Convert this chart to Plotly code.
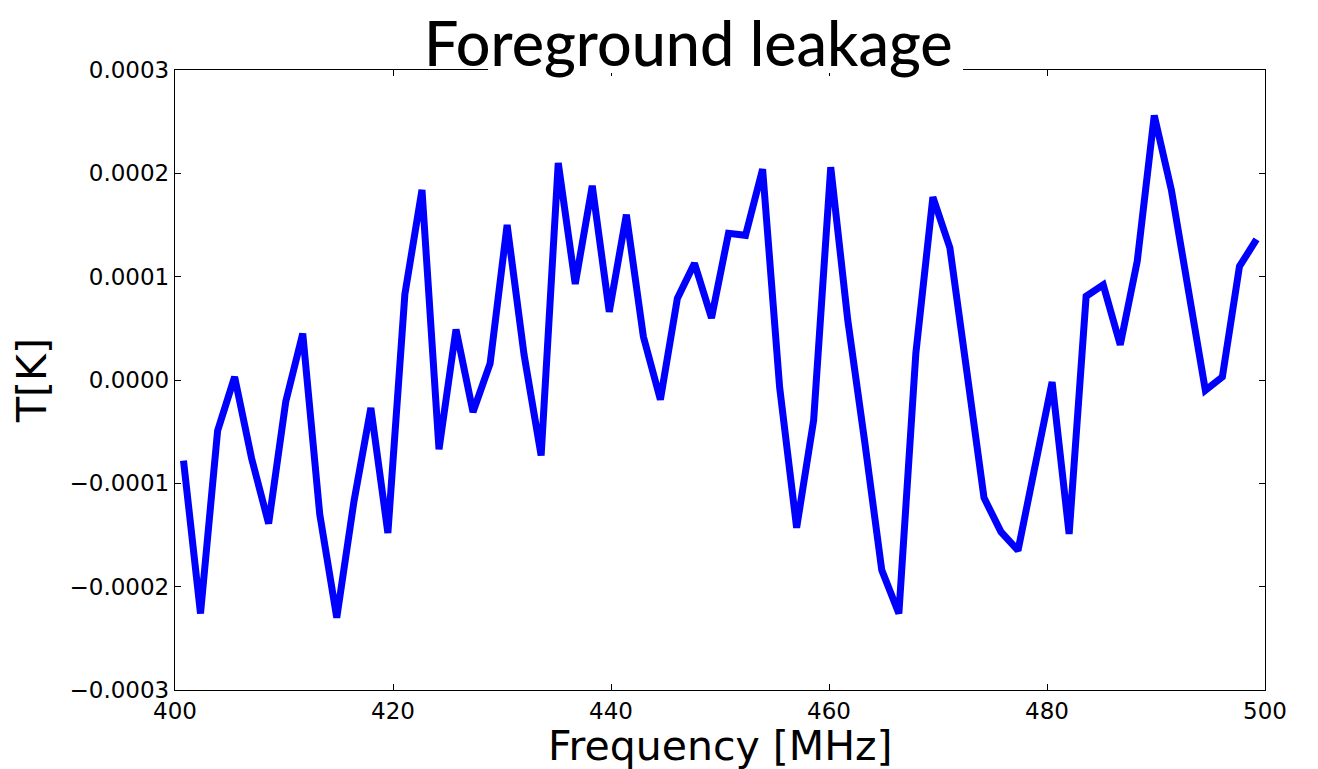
import plotly.graph_objects as go

freq_mhz = [400.78, 402.34, 403.91, 405.47, 407.03, 408.59, 410.16, 411.72,
            413.28, 414.84, 416.41, 417.97, 419.53, 421.09, 422.66, 424.22,
            425.78, 427.34, 428.91, 430.47, 432.03, 433.59, 435.16, 436.72,
            438.28, 439.84, 441.41, 442.97, 444.53, 446.09, 447.66, 449.22,
            450.78, 452.34, 453.91, 455.47, 457.03, 458.59, 460.16, 461.72,
            463.28, 464.84, 466.41, 467.97, 469.53, 471.09, 472.66, 474.22,
            475.78, 477.34, 478.91, 480.47, 482.03, 483.59, 485.16, 486.72,
            488.28, 489.84, 491.41, 492.97, 494.53, 496.09, 497.66, 499.22]

temp_1e4 = [-0.78, -2.26, -0.49, 0.03, -0.76, -1.39, -0.21, 0.45,
            -1.30, -2.30, -1.18, -0.27, -1.48, 0.83, 1.84, -0.67,
            0.49, -0.31, 0.16, 1.50, 0.24, -0.73, 2.10, 0.93,
            1.88, 0.66, 1.60, 0.42, -0.19, 0.79, 1.13, 0.60,
            1.42, 1.40, 2.04, -0.07, -1.43, -0.39, 2.06, 0.58,
            -0.60, -1.84, -2.26, 0.26, 1.77, 1.28, 0.07, -1.14,
            -1.47, -1.65, -0.83, -0.02, -1.49, 0.81, 0.92, 0.34,
            1.15, 2.56, 1.84, 0.87, -0.10, 0.03, 1.10, 1.36]

temp_k = [v * 1e-4 for v in temp_1e4]

x_ticks = [400, 420, 440, 460, 480, 500]
y_ticks = [-0.0003, -0.0002, -0.0001, 0.0, 0.0001, 0.0002, 0.0003]

fig = go.Figure()
fig.add_trace(go.Scatter(x=freq_mhz, y=temp_k, mode="lines",
                         line=dict(color="#0000ff", width=7),
                         showlegend=False, hoverinfo="x+y"))

axis_common = dict(showline=True, linecolor="black", linewidth=1.3, mirror="ticks",
                   ticks="inside", ticklen=6, tickwidth=1, tickcolor="black",
                   showgrid=False, zeroline=False,
                   tickfont=dict(family="DejaVu Sans", size=23, color="black"))

fig.update_xaxes(range=[400, 500], tickvals=x_ticks, automargin=False, **axis_common)
fig.update_yaxes(range=[-0.0003, 0.0003], tickvals=y_ticks, tickformat=".4f",
                 title=dict(text="T[K]", standoff=10,
                            font=dict(family="DejaVu Sans", size=41, color="black")),
                 **axis_common)

fig.update_layout(
    width=1318, height=769,
    margin=dict(l=175, r=53, t=70, b=79),
    paper_bgcolor="white", plot_bgcolor="white",
    shapes=[dict(type="rect", xref="paper", yref="paper", layer="above",
                 x0=(488 - 175) / 1090, x1=(963 - 175) / 1090,
                 y0=1.0 - 3 / 620, y1=1.0 + 3 / 620,
                 fillcolor="white", line=dict(width=0))],
    annotations=[
        dict(text="Foreground leakage", xref="paper", yref="paper",
             x=(688 - 175) / 1090, y=1.0, xanchor="center", yanchor="middle",
             yshift=28, showarrow=False,
             font=dict(family="Lato", size=61, color="black", weight=500)),
        dict(text="Frequency [MHz]", xref="paper", yref="paper",
             x=0.5, y=0.0, xanchor="center", yanchor="top",
             yshift=-30, showarrow=False,
             font=dict(family="DejaVu Sans", size=41, color="black")),
    ],
)

fig.write_html("out.html")
